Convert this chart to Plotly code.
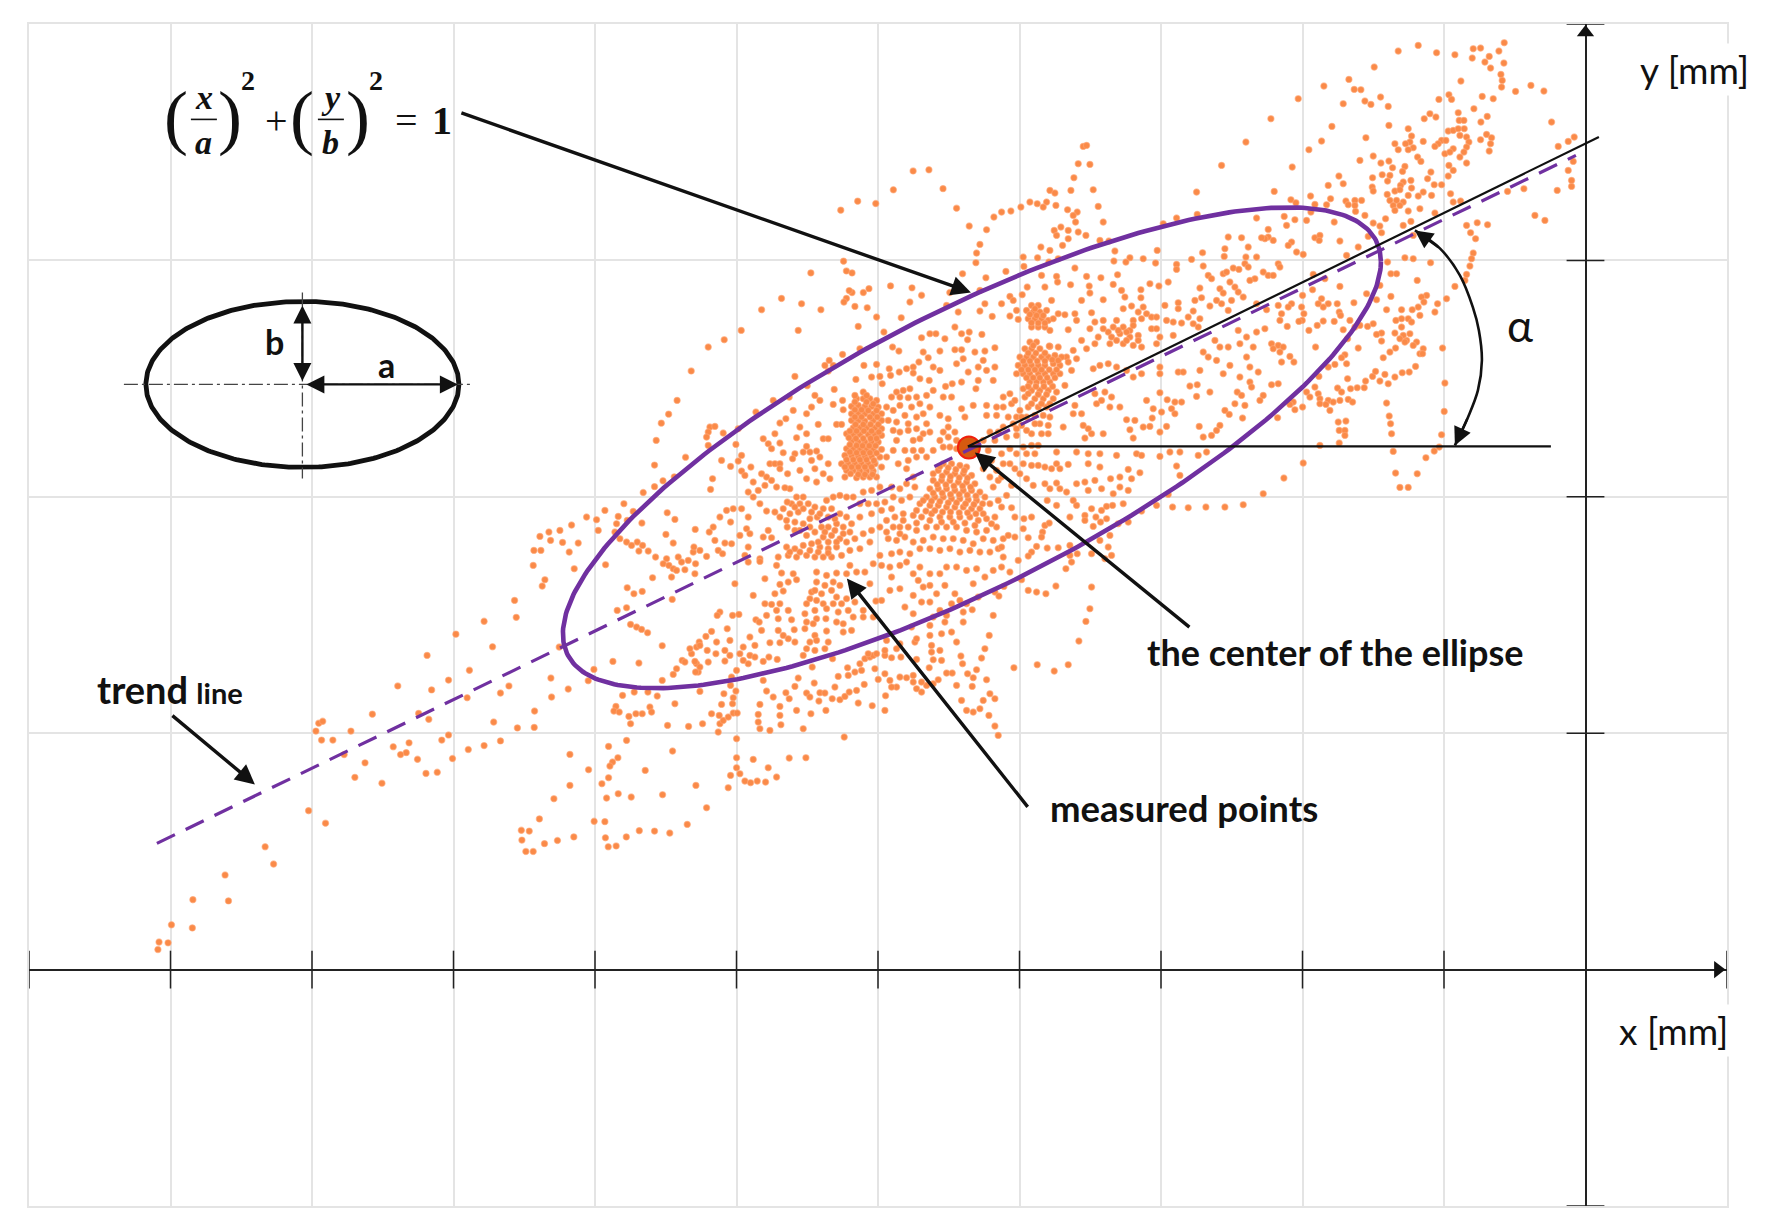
import numpy as np
import plotly.graph_objects as go

# ---------- scale of the reference: grid cell sizes, origin of the axes ----------
CELL_X, CELL_Y = 141.5, 236.4
ORIGIN_X, ORIGIN_Y = 1585.6, 969.2
def mx(p): return (np.asarray(p, float) - ORIGIN_X) / CELL_X
def my(p): return (ORIGIN_Y - np.asarray(p, float)) / CELL_Y

# ---------- measured points, one list per inspected patch ----------
patch_far_left = [(565,275),(572,270),(560,295),(570,318),(590,318),(622,295),(660,252),(705,180),(765,190),(795,165),(832,140),(757,102),(808,48),(858,15),(915,5),(873,80),(742,250),(760,265),(828,210),(887,198),(902,180),(875,272),(917,287),(795,305),(783,318),(887,320),(858,332),(830,342),(802,365),(725,325),(697,335),(720,350),(740,367),(710,355),(755,403),(775,400),(677,428),(629,413),(647,376),(610,355),(547,498),(577,530),(470,590),(485,634),(399,662),(342,725),(405,728),(304,789),(341,797),(298,835),(282,833),(280,852),(956,519),(924,548),(938,550),(925,573),(932,602),(945,602),(965,582),(988,574),(1017,565),(1053,525),(1072,526),(1073,567),(1078,590),(1092,588),(1110,565),(1133,549),(1160,550),(1187,555),(1218,533)]
patch_upper_left = [(912,1530),(1225,945),(1200,1020),(1185,1055),(1172,1078),(1163,1122),(1215,1165),(1160,1185),(1175,1225),(1195,1215),(1140,1255),(1160,1240),(1490,535),(1520,512),(1552,518),(1495,665),(1500,690),(1510,695),(1437,695),(1385,760),(1500,760),(1510,745),(1530,745),(1540,735),(1505,740)]
patch_top_mid = [(15,483),(50,435),(78,432),(103,480),(127,530),(48,733),(65,752),(10,728),(115,745)]
patch_a = [(200,50),(255,30),(230,58),(155,74),(120,90),(87,95),(60,108),(92,120),(128,126),(175,128),(148,155),(42,150),(63,150),(40,195),(163,205),(75,238),(67,257),(235,90),(312,10),(340,33),(295,48),(322,60),(366,68),(290,70),(285,95),(442,37),(465,57),(526,87),(438,102),(460,128),(300,115),(320,125),(335,135),(352,125),(368,135),(357,152),(385,152),(407,170),(440,175),(430,190),(447,195),(460,205),(475,170),(485,185),(505,180),(495,208),(470,210),(527,190),(525,220),(455,230),(398,232),(257,193),(322,262),(342,280),(367,273),(457,297),(292,330),(320,322),(332,372),(350,380),(365,387),(383,397),(427,436),(118,440),(279,483),(357,488),(222,507),(93,533),(145,566),(95,590),(205,541),(427,540),(540,573),(343,575),(384,575),(308,585),(412,587),(465,610),(288,618),(282,632),(298,635),(327,648),(348,640),(367,640),(390,620),(395,635),(332,670),(443,675),(506,678),(44,632),(43,681),(320,720),(266,738),(458,752),(150,762),(294,772),(278,785),(270,797),(206,808),(376,810),(266,832),(246,850),(150,855),(528,855),(295,880),(260,893),(334,890),(428,883),(102,895),(520,155),(540,150),(522,140),(487,480),(495,485),(470,505),(460,522),(515,460),(510,445),(530,440),(538,425),(530,490),(535,515),(527,515),(525,483)]
patch_b = [(185,28),(305,10),(363,28),(432,5),(465,18),(502,22),(530,50),(604,52),(475,78),(552,95),(295,90),(124,90),(25,140),(73,118),(630,5),(740,15),(775,35),(855,10),(840,32),(877,48),(765,80),(690,100),(708,100),(665,112),(735,115),(785,100),(808,95),(803,118),(846,102),(480,145),(428,162),(388,180),(375,195),(400,195),(385,212),(285,228),(468,237),(492,195),(530,192),(578,140),(597,152),(670,155),(720,152),(765,148),(785,148),(885,142),(825,155),(855,152),(640,200),(657,185),(685,172),(568,205),(598,215),(620,205),(640,218),(700,200),(720,210),(515,230),(540,228),(547,250),(572,225),(660,235),(688,240),(737,258),(757,250),(785,245),(805,215),(835,200),(790,175),(770,190),(850,180),(860,210),(835,240),(885,200),(880,240),(828,265),(403,267),(322,256),(268,290),(345,285),(360,300),(220,300),(428,300),(430,328),(400,312),(168,335),(335,320),(320,340),(280,330),(258,355),(240,368),(225,400),(355,372),(300,380),(290,412),(320,400),(370,415),(385,415),(410,372),(425,372),(190,415),(205,430),(215,445),(240,428),(320,438),(310,455),(285,460),(250,457),(278,475),(330,455),(350,452),(360,470),(335,480),(125,465),(115,482),(65,480),(92,498),(38,535),(32,567),(153,500),(125,512),(135,525),(160,545),(185,520),(210,490),(225,490),(240,490),(200,530),(263,520),(240,505),(300,510),(320,535),(345,505),(370,520),(385,490),(390,535),(350,545),(270,565),(255,562),(145,575),(160,590),(175,570),(195,555),(230,560),(215,540),(30,380),(45,378),(25,395),(20,410),(25,435),(70,398),(115,385),(108,432),
(490,275),(470,295),(490,295),(510,295),(530,300),(455,318),(475,315),(495,318),(515,318),(535,320),(455,340),(475,338),(495,340),(520,340),(545,340),(455,360),(475,360),(495,362),(520,360),(545,360),(460,382),(480,382),(500,382),(525,382),(545,385),(440,400),(460,402),(480,402),(505,402),(525,402),(545,405),(455,422),(475,425),(495,425),(515,425),(535,425),(440,445),(460,445),(480,447),(500,447),(520,447),(545,447),(435,465),(455,465),(475,468),(495,468),(515,468),(540,470),(425,490),(445,490),(465,490),(485,490),(505,490),(525,490),(440,510),(460,510),(480,512),(500,512),(520,512),(545,500),(435,530),(470,532),(490,530),(510,530),(530,530),
(575,290),(590,275),(610,270),(630,265),(600,290),(625,292),(650,290),(680,285),(700,270),(730,290),(755,290),(560,320),(580,330),(600,315),(635,320),(660,310),(690,320),(720,345),(745,355),(785,325),(820,315),(795,350),(860,315),(890,320),(860,345),(890,345),(565,360),(590,365),(615,345),(625,370),(650,350),(670,340),(680,370),(580,390),(600,395),(625,390),(650,385),(670,400),(690,395),(590,420),(640,420),(660,415),(580,450),(615,450),(640,450),(665,450),(560,470),(595,490),(625,480),(650,470),(680,470),(620,505),(640,530),(700,520),(730,395),(720,420),(745,380),(765,395),(745,410),(730,440),(750,440),(770,420),(770,445),(700,450),
(730,490),(755,490),(780,495),(800,500),(715,510),(740,515),(765,520),(790,520),(815,525),(700,540),(725,540),(750,540),(775,545),(800,545),(825,550),(690,565),(715,565),(740,565),(765,570),(790,570),(815,570),(840,575),(680,590),(705,590),(730,590),(755,595),(780,595),(805,598),(830,600),(855,590),(660,610),(690,615),(715,615),(740,620),(765,620),(790,620),(815,625),(840,625),(870,610),(895,600),(880,560),(870,530),(895,540),(850,505),(875,480),(890,510),(865,450),(885,420),(870,395),(895,395),(850,420),
(645,560),(620,550),(600,565),(575,560),(540,560),(515,570),(490,575),(630,590),(605,600),(580,590),(555,605),(530,610),(505,610),(480,610),(460,590),(440,590),(420,585),(400,590),(380,600),
(290,590),(310,590),(275,610),(300,610),(325,610),(345,620),(370,625),(395,625),(420,640),(440,650),(250,625),(225,635),(270,640),(295,635),(200,632),(180,610),(145,650),(125,625),(100,625),(80,630),(60,650),(92,665),(40,680),(28,695),(45,720),(75,728),(95,730),(55,750),(68,760),(20,768),(120,705),(140,685),(150,700),(205,690),(190,710),(215,712),(262,680),(285,665),(310,670),(330,655),(352,650),(300,690),(320,705),(345,695),(365,680),(385,680),(410,670),(430,680),(450,695),(395,705),(370,710),(420,715),(440,725),(465,715),(490,700),(515,690),(540,680),(560,660),(585,650),(610,640),(640,645),(665,650),(695,640),(720,650),(750,650),(780,650),(810,650),(835,660),(860,655),(885,650),(600,680),(625,680),(650,690),(680,680),(710,680),(740,680),(770,680),(800,690),(830,695),(860,690),(890,680),(565,715),(590,720),(615,710),(640,725),(670,720),(700,710),(730,715),(760,715),(790,720),(820,730),(850,715),(880,720),(260,740),(285,745),(310,735),(335,730),(360,740),(385,745),(410,740),(235,770),(265,765),(290,770),(320,765),(345,770),(370,770),(395,770),(425,765),(450,750),(480,745),(510,725),(540,765),(575,760),(600,755),(630,760),(660,745),(690,745),(720,750),(750,745),(780,755),(810,750),(840,755),(870,755),(895,745),(135,765),(180,775),(145,740),
(465,285),(500,285),(465,305),(500,305),(520,310),(465,328),(485,328),(505,330),(530,330),(465,350),(485,350),(510,350),(532,350),(467,372),(490,372),(512,372),(535,372),(450,392),(470,392),(492,392),(515,392),(537,395),(447,412),(468,414),(490,414),(512,414),(530,414),(450,433),(470,435),(488,436),(508,436),(527,436),(450,455),(470,457),(490,457),(510,457),(530,458),(440,478),(460,478),(480,478),(500,478),(522,480),(435,500),(455,500),(475,500),(495,500),(515,500),(452,520),(475,522),(495,522),(518,522),
(720,498),(745,502),(768,507),(793,510),(727,527),(752,528),(778,532),(803,533),(712,552),(738,553),(762,557),(788,557),(812,560),(700,578),(727,578),(752,582),(778,582),(802,584),(828,587),(670,600),(695,602),(720,603),(745,607),(770,607),(797,610),(822,612),(848,610),(650,630),(678,632),(705,630),(728,635),(752,635),(778,637),(803,637),(828,640),(850,640),(650,668),(690,660),(725,665),(760,665),(795,668),(825,675),(875,670),(610,660),(580,680),(575,625),(545,630),(515,640),(480,650),(455,670),(560,695),(600,700),
(262,605),(285,620),(310,625),(335,635),(360,640),(385,650),(405,655),(260,660),(240,650),(285,690),(330,680),(375,695),(405,690),(430,700),(410,725),(385,725),(355,725),(330,750),(300,755),(270,755),(355,755),(385,758)]
patch_c = [(145,5),(180,3),(230,15),(245,38),(195,55),(280,40),(105,70),(290,58),(265,65),(240,72),(160,105),(225,100),(250,92),(195,130),(215,132),(240,130),(230,150),(200,165),(265,150),(235,175),(168,178),(178,185),(275,178),(60,155),(52,165),(98,165),(117,162),(35,213),(82,205),(18,228),(50,245),(90,240),(185,210),(150,230),(165,255),(210,247),(240,247),(235,210),(250,225),(265,235),(285,245),(283,208),(315,205),(345,225),(350,240),(330,245),(380,212),(385,245),(320,265),(345,270),(375,265),(0,255),(22,270),(48,280),(75,270),(90,285),(130,260),(120,280),(150,285),(165,290),(130,300),(145,310),(75,302),(25,305),(0,320),(110,330),(95,350),(190,303),(207,290),(232,297),(310,285),(190,360),(295,353),(337,320),(398,295),(415,348),(443,322),(445,345),(465,335),(485,330),(480,310),(495,295),(510,290),(525,325),(520,285),(555,285),(575,292),(603,290),(650,297),(688,322),(725,300),(700,298),(783,287),(788,310),(845,293),(830,328),(803,340),(820,352),(740,338),(757,338),(715,358),(860,358),(770,375),(817,378),(343,368),(285,378),(405,380),(360,397),(375,398),(320,398),(330,410),(357,422),(397,415),(420,418),(435,408),(448,395),(470,390),(493,372),(475,428),(517,436),(557,406),(555,450),(378,450),(333,460),(290,450),(258,397),(268,415),(200,392),(220,410),(180,432),(240,438),(240,465),(243,493),(210,510),(175,462),(175,485),(180,505),(310,505),(433,530),(535,357),(555,340),(570,360),(600,350),(590,380),(620,352),(640,365),(650,385),(665,395),(680,375),(700,370),(665,365),(640,345),(575,380),(870,400),(850,420),(840,445),(820,455),(800,450),(785,420),(885,415),(867,465),(885,497),(895,525),(110,535),(110,592),(160,597),(268,593),(318,592),(205,622),(110,622),(120,640),(92,645),(135,662),(152,667),(172,662),(197,665),(230,650),(85,682),(20,742),(8,490),(35,460),(58,465),(60,490),(55,515),(70,480),(85,470),(100,458),(112,458),(65,432),(98,430),(72,400),(108,392),(92,375),(100,412),
(350,35),(380,45),(410,38),(450,15),(440,40),(470,35),(495,35),(350,65),(375,75),(395,90),(330,115),(320,130),(350,120),(370,130),(410,110),(440,115),(425,130),(465,125),(315,160),(345,150),(380,145),(415,155),(445,150),(490,150),(320,185),(350,175),(378,175),(410,185),(430,190),(460,170),(490,170),(520,170),(545,120),(528,122),(455,210),(430,215),(620,5),(640,40),(600,15),(570,20),(545,15),(520,10),(575,50),(510,70),(570,90),(600,85),(640,105),(665,125),(690,125),(710,100),(735,75),(765,100),(780,120),(755,130),(720,150),(740,165),(700,170),(735,185),(690,195),(690,225),(635,200),(615,140),(640,160),(725,220),(755,215),(770,245),(790,185),(790,155),(817,148),(645,245),(695,255),(695,275),(880,165),(868,225),(855,265),(800,30),(740,20),(770,20),(830,25),(690,75),(670,80),(835,110),(800,130),(885,95),(855,50),(880,30),(560,240),(600,250),(650,235),(720,270),(505,280),(530,280),(555,270),(590,265),
(335,95),(345,90),(400,65),(420,75),(365,100),(400,130),(340,190),(660,20),(690,40),(720,40),(655,60),(820,70)]
patch_d = [(370,18),(380,15),(355,70),(390,72),(342,112),(333,150),(270,150),(285,158),(400,148),(415,198),(430,245),(288,195),(260,185),(232,190),(250,200),(210,185),(183,200),(153,212),(125,215),(102,230),(80,268),(28,257),(60,312),(50,338),(48,367),(323,208),(352,215),(340,225),(347,245),(355,275),(378,285),(303,260),(283,270),(290,285),(325,270),(325,295),(308,315),(243,320),(270,330),(190,350),(233,352),(295,355),(267,365),(192,378),(138,393),(78,412),(8,400),(420,300),(447,302),(465,332),(462,362),(510,352),(498,365),(550,355),(592,330),(587,368),(610,250),(650,233),(710,155),(785,75),(858,5),(712,222),(805,290),(845,292),(865,320),(795,325),(728,337),(793,348),(858,350),(890,350),(890,233),(695,357),(650,372),(650,387),(730,377),(345,383),(245,405),(290,408),(293,425),(380,408),(423,412),(473,403),(332,433),(388,437),(390,458),(460,432),(255,440),(202,440),(187,463),(150,468),(60,450),(570,430),(597,437),(625,425),(543,448),(543,472),(485,450),(495,470),(365,480),(430,478),(515,497),(490,505),(395,517),(345,520),(350,540),(275,480),(160,480),(170,510),(175,537),(125,490),(150,527),(720,443),(745,405),(755,415),(790,400),(800,395),(820,383),(837,387),(855,370),(865,380),(810,425),(825,440),(835,455),(850,470),(780,445),(790,458),(885,415),(870,420),(725,472),(705,480),(750,497),(770,480),(785,490),(815,480),(890,490),(805,510),(655,487),(655,505),(615,495),(700,512),(550,500),(535,515),(560,520),(575,530),(620,540),(640,545),(665,548),(685,530),(700,550),(720,535),(715,560),(590,530),(405,545),(430,540),(470,540),(520,540),(545,535),(325,568),(390,565),(430,565),(460,560),(490,560),(510,570),(575,565),(590,565),(365,600),(415,590),(445,575),(480,580),(510,590),(535,585),(600,590),(640,585),(380,625),(405,610),(450,610),(490,610),(520,615),(545,620),(590,610),(270,618),(295,620),(320,650),(340,630),(350,655),(400,685),(420,675),(445,670),(470,680),(500,690),(520,710),(545,700),(600,680),(600,700),(655,695),(670,695),(720,690),(790,700),(840,710),(870,680),(895,695),(730,635),(745,650),(770,660),(780,620),(765,600),(805,620),(810,675),(860,650),(880,620),(890,575),(860,590),(840,610),(835,570),(690,737),(712,733),(710,768),(750,755),(600,757),(622,778),(665,785),(645,785),(870,725),(875,740),(832,755),(845,765),(825,790),(855,795),(795,810),(808,822),(848,833),(580,805),(605,815),(635,805),(645,820),(620,858),(577,833),(570,858),(550,860),(500,838),(525,840),(510,868),(718,858),(780,855),(770,870),(755,885),(730,890),(345,795),(315,735),(340,820),(365,820),(310,860),(370,855),(385,865),(425,780),(455,770),(480,800),(410,790),(450,800),(435,755),(405,760),(395,880),(430,880),(375,893),(520,893),(600,875),(560,780),
(215,495),(235,495),(200,510),(220,515),(240,515),(260,510),(205,535),(225,535),(245,535),(265,540),(215,560),(235,560),(255,560),(295,520),(280,535),(315,523),(270,570),(210,605),(230,605),(195,625),(215,625),(240,625),(268,617),(180,650),(200,650),(220,650),(245,650),(265,650),(285,645),(305,650),(175,675),(195,675),(215,675),(235,675),(255,675),(280,670),(300,675),(325,665),(335,690),(170,700),(190,700),(210,700),(235,700),(255,700),(280,700),(300,700),(210,725),(230,725),(250,725),(270,725),(190,745),(215,750),(240,750),(265,750),(290,755),(195,770),(225,775),(250,775),(280,775),(130,770),(150,760),(130,800),(155,790),(180,810),(205,800),(235,800),(260,800),(225,825),(250,825),(270,830),(200,830),(145,830),(160,850),(185,855),(130,860),(265,855),(240,850),(215,880),(245,880),(265,880),(140,890),(170,885),
(225,505),(210,522),(230,525),(250,525),(215,547),(235,548),(255,548),(220,615),(205,638),(228,638),(255,638),(190,662),(210,662),(232,662),(255,662),(277,658),(295,660),(185,688),(205,688),(225,688),(245,688),(268,688),(290,688),(200,712),(220,712),(240,712),(262,712),(285,712),(205,738),(228,738),(252,738),(278,738),(205,760),(235,762),(260,762),(165,780),(215,790),(245,790),(270,790),(170,830),(185,830),(225,850),(200,870),(170,865),(475,570),(500,575),(520,555),(455,590),(500,600),(535,600),(470,600)]
patch_e = [(290,95),(350,95),(385,100),(420,100),(470,105),(530,100),(545,105),(600,108),(630,95),(660,95),(715,105),(740,95),(650,137),(660,165),(540,157),(505,147),(480,170),(515,175),(452,175),(420,140),(385,130),(325,132),(290,130),(275,145),(255,140),(300,145),(130,130),(150,130),(165,145),(190,130),(215,135),(235,135),(180,160),(200,175),(125,170),(155,195),(220,195),(255,190),(290,188),(270,205),(300,205),(320,215),(350,190),(375,185),(405,180),(385,210),(425,205),(460,220),(480,200),(505,210),(340,240),(290,255),(262,240),(140,225),(125,260),(155,262),(192,295),(215,290),(165,290),(190,325),(255,315),(268,308),(248,335),(205,352),(245,350),(330,290),(350,255),(375,285),(375,300),(395,265),(425,270),(440,258),(458,255),(490,250),(408,290),(440,295),(422,305),(400,318),(475,310),(505,305),(545,272),(590,255),(638,260),(685,262),(738,260),(795,260),(850,253),(625,222),(450,345),(420,360),(445,380),(455,405),(435,415),(395,400),(230,378),(262,383),(295,382),(330,375),(352,400),(330,405),(335,425),(318,445),(215,395),(205,407),(175,420),(165,350),(130,355),(145,345),(125,380),(130,410),(125,440),(150,455),(185,478),(132,498),(205,510),(230,515),(258,520),(288,497),(395,500),(390,565),(378,603),(357,662),(325,733),(283,752),(232,733),(162,742),(117,527),(150,85),(170,100),(200,100),(225,100),(125,100),(235,75),(215,75),(190,80)]
patch_f = [(290,5),(310,12),(440,15),(563,35),(615,22),(640,25),(692,37),(820,8),(815,25),(810,47),(235,40),(240,50),(190,65),(205,75),(220,75),(340,72),(375,85),(420,108),(573,70),(590,70),(652,90),(540,105),(800,72),(795,90),(765,108),(573,138),(530,148),(500,130),(740,145),(713,160),(680,135),(665,140),(672,155),(705,185),(655,170),(660,195),(637,178),(605,178),(625,205),(635,215),(605,205),(588,210),(520,220),(503,228),(480,225),(465,230),(450,210),(430,238),(462,157),(412,160),(418,185),(422,195),(403,213),(385,160),(365,145),(355,160),(370,170),(370,212),(352,225),(327,240),(307,210),(297,213),(312,190),(305,170),(308,135),(338,118),(275,160),(265,170),(262,228),(245,190),(240,210),(235,165),(200,178),(195,235),(560,178),(545,248),(530,252),(585,248),(545,272),(443,265),(605,230),(610,255),(630,250),(650,275),(600,265),(620,270),(640,285),(615,275),(728,293),(670,295),(660,310),(668,310),(587,293),(570,305),(550,322),(475,293),(347,290),(435,313),(425,322),(440,340),(405,342),(385,350),(215,280),(235,285),(250,290),(220,295),(240,305),(245,335),(270,318),(282,335),(357,378),(443,385),(497,392),(518,378),(527,363),(555,372),(585,380),(607,367),(628,365),(647,348),(540,392),(565,400),(472,412),(493,412),(452,415),(413,413),(425,425),(345,410),(355,430),(320,425),(330,440),(360,445),(385,450),(400,455),(420,450),(445,447),(458,455),(360,460),(378,462),(390,480),(280,455),(270,462),(285,478),(308,470),(233,502),(735,398),(733,483),(560,458),(568,497),(572,520),(575,550),(725,553),(415,515),(438,512),(418,540),(435,540),(435,555),(418,578),(360,585),(718,590),(703,602),(678,622),(580,603),(587,668),(652,670),(600,711),(625,711),(310,638),(252,683),(190,730),(235,400),(215,403),(190,435),(180,450)]
patch_g = [(535,45),(475,62),(590,67),(645,73),(700,55),(722,53),(793,37),(777,62),(697,83),(748,78),(735,95),(792,98),(752,113),(403,110),(327,147),(252,167),(343,177),(363,178),(663,152),(783,132),(787,150),(785,170),(827,183),(873,165),(912,182),(422,200),(375,212),(393,222),(445,228),(310,220),(175,205),(597,207),(627,193),(635,207),(727,198),(760,205),(702,235),(655,247),(93,265),(742,258),(723,275),(658,270),(672,270),(935,275),(570,250),(553,265),(588,260),(276,288),(447,285),(505,295),(625,302),(640,300),(655,295),(673,295),(660,315),(680,320),(687,335),(740,312),(755,322),(722,328),(752,340),(748,362),(378,322),(515,317),(510,335),(245,332),(550,333),(465,340),(497,340),(520,352),(505,358),(475,358),(605,330),(618,330),(595,340),(585,348),(680,350),(672,365),(640,355),(615,370),(630,365),(660,380),(207,358),(360,390),(400,377),(533,380),(543,393),(680,398),(447,392),(423,398),(157,410),(458,412),(495,408),(488,423),(627,405),(640,420),(573,425),(563,445),(625,437),(297,437),(427,433),(450,435),(398,442),(443,452),(513,450),(490,455),(265,465),(310,460),(482,465),(583,463),(605,463),(515,473),(397,470),(465,482),(400,482),(480,478),(103,483),(632,490),(442,492),(505,495),(575,495),(550,485),(535,497),(212,497),(153,508),(272,505),(318,512),(345,510),(365,510),(168,517),(450,510),(470,510),(490,515),(640,515),(662,512),(225,522),(260,523),(325,523),(345,525),(460,525),(480,525),(465,540),(505,542),(540,535),(347,543),(375,555),(585,548),(213,545),(437,565),(133,558),(165,568),(200,570),(283,575),(400,578),(420,587),(490,585),(513,573),(680,585),(712,577),(743,583),(885,555),(915,570),(140,585),(85,597),(425,607),(692,607),(707,625),(85,620),(100,630),(75,625),(65,622),(225,622),(240,615),(238,630),(300,632),(155,635),(145,645),(385,618),(355,650),(520,615),(952,480),(852,475),(803,483),(995,450),(995,468),(985,420),(1000,393),(955,348),(985,333),(1003,320)]

# each patch with where it sits in the picture: left, top, horizontal and vertical reading scale
patches = [
    (patch_far_left, 0, 615, 1.772, 2.55), (patch_upper_left, 0, 0, 1.772, 2.55), (patch_top_mid, 885, 0, 1.772, 2.55),
    (patch_a, 520, 500, 3, 3), (patch_b, 700, 300, 3, 3), (patch_c, 700, 560, 3, 3), (patch_d, 960, 140, 3, 3),
    (patch_e, 960, 420, 3, 3), (patch_f, 1200, 250, 3, 3), (patch_g, 1240, 30, 3, 3),
]
points_x, points_y = [], []
for pts, x0, y0, kx, ky in patches:
    for a, b in pts:
        points_x.append(float(mx(x0 + a / kx)))
        points_y.append(float(my(y0 + b / ky)))

x_ticks = [-11,-10,-9,-8,-7,-6,-5,-4,-3,-2,-1,1]
y_ticks = [-1,1,2,3,4]

# guides in picture units
trend_line = ([157, 1576], [843, 155])
axis_line = ([968, 1599], [446, 136.5])
horizontal_line = ([968, 1551], [446, 446])
alpha_arc = ([1415,1440,1460,1473,1479,1482,1478,1468,1455], [230,248,275,307,330,360,390,417,445])
center_point = (969, 447)

# purple ellipse: centre, half extents, phase (picture units / degrees)
ell_cx, ell_cy, ell_rx, ell_ry, ell_phase = 972, 447.4, 409, 240.4, 39.3
# key sketch ellipse
key_cx, key_cy, key_a, key_b = 302.5, 384, 156.5, 83

PURPLE = "#7030a0"
ORANGE = "#fa8a48"
GRID = "#e4e4e4"
INK = "#111111"

fig = go.Figure()
fig.add_trace(go.Scatter(x=points_x, y=points_y, mode="markers", cliponaxis=False,
                         marker=dict(size=6.2, color=ORANGE, line=dict(width=1.2, color="rgba(255,165,115,0.6)"))))
fig.add_trace(go.Scatter(x=[float(mx(center_point[0]))], y=[float(my(center_point[1]))], mode="markers",
                         marker=dict(size=22, color="#d65a10", line=dict(width=2, color="#f0200c"))))

t = np.radians(np.linspace(0, 360, 361))
fig.add_trace(go.Scatter(x=mx(ell_cx + ell_rx * np.cos(t)), y=my(ell_cy - ell_ry * np.cos(t - np.radians(ell_phase))),
                         mode="lines", line=dict(color=PURPLE, width=4.6)))
fig.add_trace(go.Scatter(x=mx(key_cx + key_a * np.cos(t)), y=my(key_cy + key_b * np.sin(t)),
                         mode="lines", line=dict(color=INK, width=4.8)))
fig.add_trace(go.Scatter(x=mx(trend_line[0]), y=my(trend_line[1]), mode="lines",
                         line=dict(color=PURPLE, width=3.2, dash="20px,12px")))
for xs, ys in (axis_line, horizontal_line):
    fig.add_trace(go.Scatter(x=mx(xs), y=my(ys), mode="lines", line=dict(color=INK, width=2.2)))
fig.add_trace(go.Scatter(x=mx(alpha_arc[0]), y=my(alpha_arc[1]), mode="lines",
                         line=dict(color=INK, width=2.6, shape="spline")))
# key centre lines
for xs, ys in (([124, 474], [384, 384]), ([302.5, 302.5], [292, 478])):
    fig.add_trace(go.Scatter(x=mx(xs), y=my(ys), mode="lines",
                             line=dict(color="#444444", width=1.3, dash="14px,4px,3px,4px")))
# axis ticks and heads
fig.add_trace(go.Scatter(x=x_ticks, y=[0]*len(x_ticks), mode="markers", cliponaxis=False,
                         marker=dict(symbol="line-ns", size=27, line=dict(width=1.5, color="#222222"))))
fig.add_trace(go.Scatter(x=[0]*len(y_ticks), y=y_ticks, mode="markers", cliponaxis=False,
                         marker=dict(symbol="line-ew", size=27, line=dict(width=1.5, color="#222222"))))
fig.add_trace(go.Scatter(x=[float(mx(1585.6))], y=[float(my(32))], mode="markers", cliponaxis=False,
                         marker=dict(symbol="triangle-up", size=15, color=INK)))
fig.add_trace(go.Scatter(x=[float(mx(1718))], y=[float(my(969.2))], mode="markers", cliponaxis=False,
                         marker=dict(symbol="triangle-right", size=15, color=INK)))
# fraction bars of the equation
for xs in ([191, 217], [318, 344]):
    fig.add_trace(go.Scatter(x=mx(xs), y=my([119, 119]), mode="lines", line=dict(color=INK, width=1.6)))

annotations = []
def arrow(tail, tip, width=2.8, head=2, both=False):
    annotations.append(dict(x=float(mx(tip[0])), y=float(my(tip[1])), ax=float(mx(tail[0])), ay=float(my(tail[1])),
                            xref="x", yref="y", axref="x", ayref="y", text="", showarrow=True,
                            arrowhead=head, arrowsize=1.5 if width < 2.6 else 1.15, arrowwidth=width,
                            arrowcolor=INK, startarrowhead=head, startarrowsize=1.5 if width < 2.6 else 1.15,
                            arrowside="end+start" if both else "end"))
def label(x, y, text, size, bold=False, family="Lato", color=INK, bg=None, italic=False):
    s = text
    if bold: s = f"<b>{s}</b>"
    if italic: s = f"<i>{s}</i>"
    a = dict(x=float(mx(x)), y=float(my(y)), xref="x", yref="y", text=s, showarrow=False,
             font=dict(family=family, size=size, color=color), xanchor="center", yanchor="middle")
    if bg: a.update(bgcolor=bg, borderpad=3)
    annotations.append(a)

arrow((460, 112), (971, 292), 3.4)
arrow((1191, 628), (975, 452), 3.4)
arrow((1029, 808), (847, 578), 3.4)
arrow((171, 714), (255, 784), 3.4)
arrow((1440, 248), (1415, 230), 2.4)
arrow((1468, 417), (1455, 445), 2.4)
arrow((302.5, 382), (302.5, 305), 2.4, both=True)
arrow((305, 384), (458, 384), 2.4, both=True)

label(1695, 69, "y [mm]", 37, bg="white")
label(1674, 1030, "x [mm]", 37, bg="white")
label(1520, 325, "α", 44)
label(1336, 652, "the center of the ellipse", 36, bold=True)
label(1184, 808, "measured points", 36.5, bold=True)
annotations.append(dict(x=float(mx(170)), y=float(my(689)), xref="x", yref="y", showarrow=False,
                        text="<b><span style='font-size:38px'>trend</span> <span style='font-size:29px'>line</span></b>",
                        font=dict(family="Lato", color=INK, size=34)))
label(275, 341, "b", 34, bold=True)
label(387, 364, "a", 34, bold=True)
S = "Liberation Serif"
label(176, 117, "(", 72, family=S)
label(230, 117, ")", 72, family=S)
label(204, 97, "x", 34, bold=True, italic=True, family=S)
label(204, 142, "a", 34, bold=True, italic=True, family=S)
label(248, 80, "2", 28, bold=True, family=S)
label(277, 120, "+", 40, family=S)
label(302, 117, "(", 72, family=S)
label(358, 117, ")", 72, family=S)
label(331, 97, "y", 34, bold=True, italic=True, family=S)
label(331, 142, "b", 34, bold=True, italic=True, family=S)
label(376, 80, "2", 28, bold=True, family=S)
label(407, 120, "=", 40, family=S)
label(442, 120, "1", 40, bold=True, family=S)

axis = dict(showgrid=True, gridcolor=GRID, gridwidth=2, dtick=1, tick0=0, showticklabels=False, ticks="",
            showline=True, mirror=True, linecolor=GRID, linewidth=2,
            zeroline=True, zerolinecolor="#222222", zerolinewidth=1.8)
fig.update_layout(width=1769, height=1229, showlegend=False, plot_bgcolor="white", paper_bgcolor="white",
                  margin=dict(l=29, r=42, t=23.5, b=23.4), hovermode=False, annotations=annotations,
                  xaxis=dict(axis, range=[-11, 1]), yaxis=dict(axis, range=[-1, 4]),
                  font=dict(family="Lato"))
fig.write_html("out.html", config={"displayModeBar": False},
               post_script="document.body.style.margin='0';document.documentElement.style.overflow='hidden';")
